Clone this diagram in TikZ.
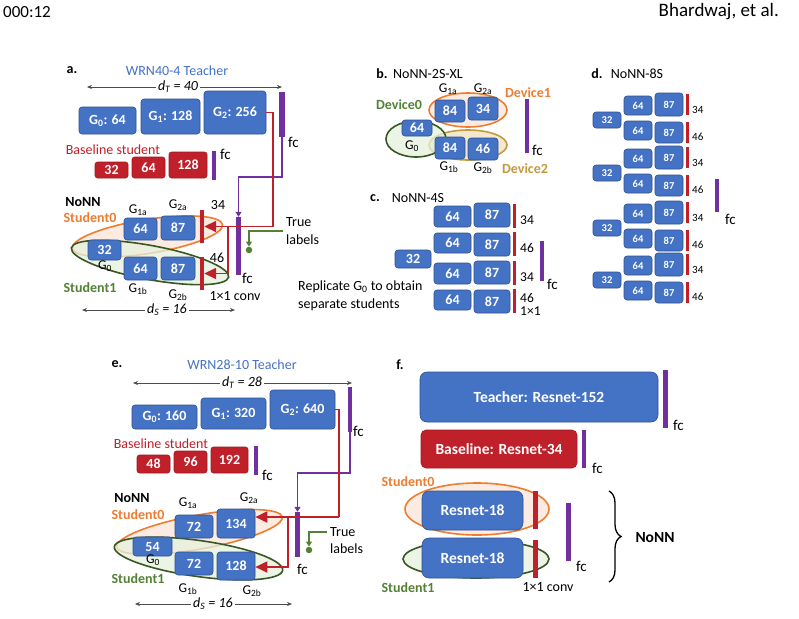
\documentclass[tikz,border=0pt]{standalone}
\usepackage{fontspec}
\setmainfont{Carlito}
\usetikzlibrary{arrows.meta,decorations.pathreplacing,calc}
\definecolor{bblue}{HTML}{4472C4}
\definecolor{bdark}{HTML}{2F528F}
\definecolor{rred}{HTML}{C0202A}
\definecolor{rdark}{HTML}{A01820}
\definecolor{ppl}{HTML}{7030A0}
\definecolor{org}{HTML}{ED7D31}
\definecolor{orgf}{HTML}{FCEBE0}
\definecolor{grn}{HTML}{548235}
\definecolor{grnd}{HTML}{385723}
\definecolor{grnf}{HTML}{E6F1DD}
\definecolor{gld}{HTML}{C49A3C}
\definecolor{gldf}{HTML}{F1E3C6}
\newcommand\fs[1]{\fontsize{#1}{#1}\selectfont}
\newcommand\bx[7]{\node[#6,minimum width={((#4)-(#2))*1pt},minimum height={((#5)-(#3))*1pt}] (#1) at ({((#2)+(#4))/2},{((#3)+(#5))/2}) {#7};}
\tikzset{
 bb/.style={draw=bdark, fill=bblue, line width=0.6pt, rounded corners=3pt, text=white, font=\bfseries\fs{14}, inner sep=0pt},
 rb/.style={draw=rdark, fill=rred, line width=0.6pt, rounded corners=2.5pt, text=white, font=\bfseries\fs{14}, inner sep=0pt},
 pbar/.style={fill=ppl, draw=none, inner sep=0pt},
 cbar/.style={fill=rred, draw=none, inner sep=0pt},
 lb/.style={font=\fs{13.5}, inner sep=0pt},
 lbw/.style={font=\fs{14}, inner sep=0pt, anchor=west},
 hd/.style={font=\bfseries\fs{14}, inner sep=0pt},
 dimarr/.style={{Stealth[length=5pt,width=4pt]}-{Stealth[length=5pt,width=4pt]}, draw=black!70, line width=0.7pt},
 redl/.style={draw=rred, line width=1.8pt},
 redarr/.style={-{Triangle[length=12pt,width=11pt]}},
 purl/.style={draw=ppl, line width=1.6pt},
 purarr/.style={-{Triangle[length=5pt,width=6pt]}},
 grnl/.style={draw=grn, line width=1.5pt},
 grnarr/.style={-{Triangle[length=5pt,width=6pt]}},
 dotn/.style={circle, fill=grn, inner sep=0pt, minimum size=6.5pt},
 ello/.style={draw=org, line width=1.6pt, fill=orgf},
 ellg/.style={draw=grnd, line width=1.6pt, fill=grnf, fill opacity=0.75},
 elly/.style={draw=gld, line width=1.6pt, fill=gldf, fill opacity=0.8},
}
\begin{document}
\begin{tikzpicture}[x=1pt,y=-1pt]
\fill[white] (0,0) rectangle (799,618);
\useasboundingbox (0,0) rectangle (799,618);
% header
\node[font=\fs{17}, anchor=west, inner sep=0pt] (hdl) at (3,12) {000:12};
\node[font=\fs{19}, anchor=east, inner sep=0pt] (hdr) at (779,12) {Bhardwaj, et al.};

% ================= panel a =================
\node[hd] (aL) at (72,70) {a.};
\node[font=\fs{14}, text=bblue] (aT) at (177,71) {WRN40-4 Teacher};
\coordinate (aDl) at (87,87); \coordinate (aDr) at (282,87);
\draw[dimarr] (aDl) -- (aDr);
\node[font=\itshape\fs{14}, fill=white, inner sep=2pt] (aDT) at (178,87) {d\textsubscript{T} = 40};
\bx{aG0}{79}{107}{136}{134}{bb}{G\textsubscript{0}: 64}
\bx{aG1}{141}{99}{200}{134}{bb}{G\textsubscript{1}: 128}
\bx{aG2}{204}{91}{266}{134}{bb}{G\textsubscript{2}: 256}
\bx{aTF}{279}{92}{285}{137}{pbar}{}
\node[lbw, font=\fs{15}] (aTFl) at (288,142) {fc};
\node[font=\fs{14}, text=rred] (aBl) at (113,150) {Baseline student};
\bx{aB0}{95}{162}{128}{178}{rb}{32}
\bx{aB1}{132}{157}{165}{178}{rb}{64}
\bx{aB2}{169}{152}{207}{178}{rb}{128}
\bx{aBF}{212}{151}{216}{180}{pbar}{}
\node[lbw, font=\fs{15}] (aBFl) at (220,154) {fc};
% students
\draw[ello, rotate around={9:(147.5,236.5)}] (147.5,236.5) ellipse [x radius=76, y radius=17];
\draw[ellg, rotate around={-10.5:(150,262.5)}] (150,262.5) ellipse [x radius=80, y radius=17];
\bx{a32}{88}{240}{121}{260}{bb}{32}
\bx{a64a}{124}{218}{157}{240}{bb}{64}
\bx{a87a}{161}{216}{195}{240}{bb}{87}
\bx{a64b}{124}{257}{157}{280}{bb}{64}
\bx{a87b}{161}{257}{195}{280}{bb}{87}
\bx{aC0}{200}{210}{204}{243}{cbar}{}
\bx{aC1}{200}{257}{204}{290}{cbar}{}
\bx{aNF}{236}{217}{241}{275}{pbar}{}
\node[hd] (aN) at (83,202) {NoNN};
\node[hd, text=org] (aS0) at (90,218) {Student0};
\node[hd, text=grn] (aS1) at (90,288) {Student1};
\node[lb] (aG1al) at (138,210) {G\textsubscript{1a}};
\node[lb] (aG2al) at (178,205) {G\textsubscript{2a}};
\node[lb, font=\fs{14}] (a34) at (218,205) {34};
\node[lb, font=\fs{14}] (a46) at (217,258) {46};
\node[lb] (aG0l) at (105,266) {G\textsubscript{0}};
\node[lb] (aG1bl) at (138,289) {G\textsubscript{1b}};
\node[lb] (aG2bl) at (178,295) {G\textsubscript{2b}};
\node[lb, font=\fs{14}] (aCv) at (235,296) {1×1 conv};
\node[lbw, font=\fs{15}] (aNFl) at (242,278) {fc};
\coordinate (aSl) at (82,310); \coordinate (aSr) at (235,310);
\draw[dimarr] (aSl) -- (aSr);
\node[font=\itshape\fs{14}, fill=white, inner sep=2pt] (aDS) at (167,310) {d\textsubscript{S} = 16};
% connectors
\coordinate (aP1) at (282,177);
\draw[purl, purarr] (aTF.south) -- (aP1) -| (aNF.north);
\coordinate (aRc) at (273,226.5);
\coordinate (aRb) at (228,226.5);
\draw[redl] (aG2.east) -| (aRc);
\draw[redl, redarr] (aRc) -- (aC0.east);
\draw[redl, redarr] (aRb) |- (aC1.east);
\node[lbw] (aTrue) at (286,222) {True};
\node[lbw] (aLab) at (286,240) {labels};
\node[dotn] (aDot) at (249,250) {};
\coordinate (aGs) at (283,231);
\draw[grnl, grnarr] (aGs) -| (aDot.north);

% ================= panel b =================
\node[hd] (bL) at (382,74) {b.};
\node[font=\fs{14}] (bT) at (428,74) {NoNN-2S-XL};
\draw[ello] (468,110) ellipse [x radius=39, y radius=17];
\draw[elly] (468,145) ellipse [x radius=39, y radius=15];
\draw[ellg] (416,139) ellipse [x radius=30, y radius=18];
\bx{b64}{402}{120}{432}{136}{bb}{64}
\bx{b84a}{435}{100}{465}{122}{bb}{84}
\bx{b34}{468}{97}{498}{120}{bb}{34}
\bx{b84b}{435}{137}{465}{159}{bb}{84}
\bx{b46}{468}{138}{498}{160}{bb}{46}
\bx{bF}{525}{99}{529}{153}{pbar}{}
\node[lbw, font=\fs{15}] (bFl) at (532,150) {fc};
\node[lb] (bG1a) at (448,89) {G\textsubscript{1a}};
\node[lb] (bG2a) at (483,89) {G\textsubscript{2a}};
\node[hd, text=org] (bD1) at (528,93) {Device1};
\node[hd, text=grn] (bD0) at (399,105) {Device0};
\node[lb] (bG0) at (412,146) {G\textsubscript{0}};
\node[lb] (bG1b) at (449,167) {G\textsubscript{1b}};
\node[lb] (bG2b) at (483,168) {G\textsubscript{2b}};
\node[hd, text=gld] (bD2) at (525,169) {Device2};

% ================= panel c =================
\node[hd] (cL) at (375,198) {c.};
\node[font=\fs{14}] (cT) at (418,198) {NoNN-4S};
\bx{c32}{395}{250}{431}{268}{bb}{32}
\bx{c64a}{434}{206}{471}{227}{bb}{64}
\bx{c87a}{474}{203}{510}{227}{bb}{87}
\bx{c64b}{434}{233}{471}{253}{bb}{64}
\bx{c87b}{474}{233}{510}{256}{bb}{87}
\bx{c64c}{434}{263}{471}{284}{bb}{64}
\bx{c87c}{474}{261}{510}{284}{bb}{87}
\bx{c64d}{434}{290}{471}{310}{bb}{64}
\bx{c87d}{474}{290}{510}{313}{bb}{87}
\bx{cC1}{513}{204}{516}{228}{cbar}{}
\bx{cC2}{513}{232}{516}{256}{cbar}{}
\bx{cC3}{513}{261}{516}{285}{cbar}{}
\bx{cC4}{513}{289}{516}{313}{cbar}{}
\node[lbw, font=\fs{13.5}] (c34a) at (520,220) {34};
\node[lbw, font=\fs{13.5}] (c46a) at (520,248) {46};
\node[lbw, font=\fs{13.5}] (c34b) at (520,277) {34};
\node[lbw, font=\fs{13.5}] (c46b) at (520,298) {46};
\node[lbw, font=\fs{13.5}] (c11) at (520,311) {1×1};
\bx{cF}{540}{241}{544}{281}{pbar}{}
\node[lbw, font=\fs{15}] (cFl) at (547,284) {fc};
\node[lbw] (cR1) at (298,287) {Replicate G\textsubscript{0} to obtain};
\node[lbw] (cR2) at (298,305) {separate students};

% ================= panel d =================
\node[hd] (dL) at (597,74) {d.};
\node[font=\fs{14}] (dT) at (637,74) {NoNN-8S};
\foreach \g/\dy in {1/0,2/53,3/108,4/160}{
 \bx{d32\g}{593}{112+\dy}{621}{128+\dy}{bb,font=\bfseries\fs{10.5}}{32}
 \bx{d64a\g}{624}{96+\dy}{652}{115+\dy}{bb,font=\bfseries\fs{10.5}}{64}
 \bx{d87a\g}{655}{93+\dy}{683}{116+\dy}{bb,font=\bfseries\fs{10.5}}{87}
 \bx{d64b\g}{624}{121+\dy}{652}{140+\dy}{bb,font=\bfseries\fs{10.5}}{64}
 \bx{d87b\g}{655}{122+\dy}{683}{143+\dy}{bb,font=\bfseries\fs{10.5}}{87}
 \bx{dCa\g}{686}{94+\dy}{688.5}{115+\dy}{cbar}{}
 \bx{dCb\g}{686}{122+\dy}{688.5}{143+\dy}{cbar}{}
 \node[lbw, font=\fs{11}] (d34\g) at (692,110+\dy) {34};
 \node[lbw, font=\fs{11}] (d46\g) at (692,137+\dy) {46};
}
\bx{dF}{715}{179}{719}{212}{pbar}{}
\node[lbw, font=\fs{15}] (dFl) at (725,219) {fc};

% ================= panel e =================
\node[hd] (eL) at (117,364) {e.};
\node[font=\fs{14}, text=bblue] (eT) at (242,365) {WRN28-10 Teacher};
\coordinate (eDl) at (133,383); \coordinate (eDr) at (352,383);
\draw[dimarr] (eDl) -- (eDr);
\node[font=\itshape\fs{14}, fill=white, inner sep=2pt] (eDT) at (242,383) {d\textsubscript{T} = 28};
\bx{eG0}{132}{405}{197}{429}{bb}{G\textsubscript{0}: 160}
\bx{eG1}{201}{398}{266}{429}{bb}{G\textsubscript{1}: 320}
\bx{eG2}{270}{390}{335}{429}{bb}{G\textsubscript{2}: 640}
\bx{eTF}{348}{387}{352}{432}{pbar}{}
\node[lbw, font=\fs{15}] (eTFl) at (353,431) {fc};
\node[font=\fs{14}, text=rred] (eBl) at (161,444) {Baseline student};
\bx{eB0}{137}{455}{170}{473}{rb}{48}
\bx{eB1}{174}{451}{207}{473}{rb}{96}
\bx{eB2}{211}{447}{248}{473}{rb}{192}
\bx{eBF}{254}{446}{258}{475}{pbar}{}
\node[lbw, font=\fs{15}] (eBFl) at (262,475) {fc};
\draw[ello, rotate around={10.3:(199.5,532)}] (199.5,532) ellipse [x radius=84, y radius=17];
\draw[ellg, rotate around={-8:(198.5,558.5)}] (198.5,558.5) ellipse [x radius=85, y radius=18];
\bx{e72a}{175}{515}{213}{538}{bb}{72}
\bx{e134}{217}{509}{255}{538}{bb}{134}
\bx{e54}{133}{537}{172}{556}{bb}{54}
\bx{e72b}{175}{552}{213}{575}{bb}{72}
\bx{e128}{217}{552}{255}{580}{bb}{128}
\bx{eNF}{295}{512}{300}{557}{pbar}{}
\node[lbw, font=\fs{15}] (eNFl) at (297,569) {fc};
\node[hd] (eN) at (132,498) {NoNN};
\node[hd, text=org] (eS0) at (138,515) {Student0};
\node[hd, text=grn] (eS1) at (138,579) {Student1};
\node[lb] (eG1a) at (188,503) {G\textsubscript{1a}};
\node[lb] (eG2a) at (249,498) {G\textsubscript{2a}};
\node[lb] (eG0) at (153,560) {G\textsubscript{0}};
\node[lb] (eG1b) at (188,589) {G\textsubscript{1b}};
\node[lb] (eG2b) at (252,591) {G\textsubscript{2b}};
\coordinate (eSl) at (135,604); \coordinate (eSr) at (292,604);
\draw[dimarr] (eSl) -- (eSr);
\node[font=\itshape\fs{14}, fill=white, inner sep=2pt] (eDS) at (213,604) {d\textsubscript{S} = 16};
\coordinate (eP1) at (350,473);
\draw[purl, purarr] (eTF.south) -- (eP1) -| (eNF.north);
\coordinate (eRc) at (339,517);
\coordinate (eRb) at (288,517);
\coordinate (eRy) at (0,567);
\draw[redl] (eG2.east) -| (eRc);
\draw[redl, redarr] (eRc) -- (e134.east |- eRc);
\draw[redl, redarr] (eRb) |- (e128.east |- eRy);
\node[lbw] (eTrue) at (330,532) {True};
\node[lbw] (eLab) at (330,549) {labels};
\node[dotn] (eDot) at (309,550) {};
\coordinate (eGs) at (327,532);
\draw[grnl, grnarr] (eGs) -| (eDot.north);

% ================= panel f =================
\node[hd] (fL) at (400,365) {f.};
\bx{fT}{420}{372}{658}{422}{bb, rounded corners=7pt, font=\bfseries\fs{15.5}}{Teacher: Resnet-152}
\bx{fTF}{663}{370}{668}{428}{pbar}{}
\node[lbw, font=\fs{15}] (fTFl) at (673,425) {fc};
\bx{fB}{421}{430}{577}{468}{rb, rounded corners=5pt, font=\bfseries\fs{15.5}}{Baseline: Resnet-34}
\bx{fBF}{582}{430}{586}{468}{pbar}{}
\node[lbw, font=\fs{15}] (fBFl) at (592,468) {fc};
\draw[ello] (477,509) ellipse [x radius=72, y radius=26];
\draw[ellg] (476,559) ellipse [x radius=73, y radius=19];
\bx{fS0}{422}{491}{523}{530}{bb, rounded corners=7pt, font=\bfseries\fs{15.5}}{Resnet-18}
\bx{fS1}{422}{538}{523}{578}{bb, rounded corners=7pt, font=\bfseries\fs{15.5}}{Resnet-18}
\bx{fC0}{533}{491}{538}{529}{cbar}{}
\bx{fC1}{533}{540}{538}{578}{cbar}{}
\bx{fNF}{566}{503}{571}{561}{pbar}{}
\node[lbw, font=\fs{15}] (fNFl) at (576,566) {fc};
\node[hd, text=org] (fS0l) at (408,482) {Student0};
\node[hd, text=grn] (fS1l) at (408,588) {Student1};
\node[lb, font=\fs{14}] (fCv) at (548,587) {1×1 conv};
\coordinate (fBt) at (609,491); \coordinate (fBb) at (609,582);
\draw[line width=1.3pt, decorate, decoration={brace, amplitude=12pt}] (fBt) -- (fBb);
\node[hd, font=\bfseries\fs{15.5}] (fN) at (655,538) {NoNN};
\end{tikzpicture}
\end{document}
